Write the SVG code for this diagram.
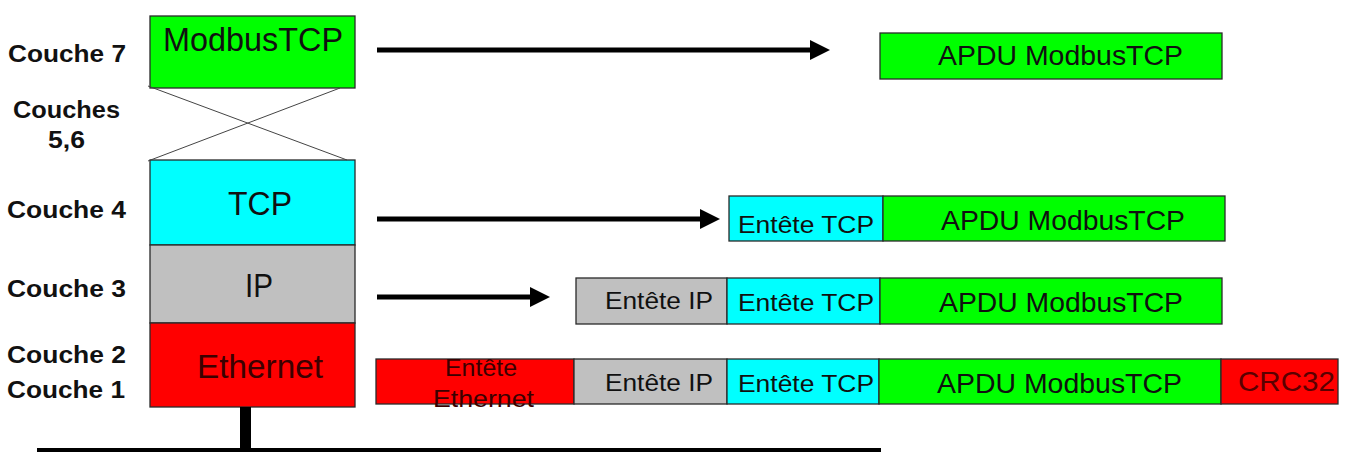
<svg xmlns="http://www.w3.org/2000/svg" width="1349" height="452" viewBox="0 0 1349 452">
  <style>
    .box { stroke: #2a2a2a; stroke-width: 1.3; }
    .green { fill: #00ff00; }
    .cyan { fill: #00ffff; }
    .grey { fill: #c0c0c0; }
    .red { fill: #ff0000; }
    .lbl { font-family: "Liberation Sans", Arial, sans-serif; font-weight: bold; font-size: 23px; fill: #111111; }
    .big { font-family: "Liberation Sans", Arial, sans-serif; font-size: 34px; fill: #101010; }
    .seg { font-family: "Liberation Sans", Arial, sans-serif; font-size: 28px; fill: #101010; }
    .hdr { font-family: "Liberation Sans", Arial, sans-serif; font-size: 24px; fill: #101010; }
    .arrow { stroke: #000000; stroke-width: 5; fill: none; marker-end: url(#head); }
    .thin { stroke: #444444; stroke-width: 1; fill: none; }
  </style>
  <defs>
    <marker id="head" markerUnits="userSpaceOnUse" markerWidth="20" markerHeight="20" refX="5" refY="10" orient="auto">
      <path d="M0,0 L20,10 L0,20 Z" fill="#000000"/>
    </marker>
  </defs>

  <rect width="1349" height="452" fill="#ffffff"/>

  <!-- layer labels -->
  <g id="labels">
    <text class="lbl" x="8" y="62" textLength="118" lengthAdjust="spacingAndGlyphs">Couche 7</text>
    <text class="lbl" x="13" y="118" textLength="107" lengthAdjust="spacingAndGlyphs">Couches</text>
    <text class="lbl" x="48" y="148" textLength="37" lengthAdjust="spacingAndGlyphs">5,6</text>
    <text class="lbl" x="7" y="218" textLength="119" lengthAdjust="spacingAndGlyphs">Couche 4</text>
    <text class="lbl" x="7" y="297" textLength="119" lengthAdjust="spacingAndGlyphs">Couche 3</text>
    <text class="lbl" x="7" y="363" textLength="119" lengthAdjust="spacingAndGlyphs">Couche 2</text>
    <text class="lbl" x="7" y="398" textLength="118" lengthAdjust="spacingAndGlyphs">Couche 1</text>
  </g>

  <!-- protocol stack -->
  <g id="stack-modbus">
    <rect class="box green" x="150" y="16" width="205" height="72"/>
    <text class="big" x="163" y="51" textLength="180" lengthAdjust="spacingAndGlyphs">ModbusTCP</text>
  </g>
  <g id="stack-tcp">
    <rect class="box cyan" x="150" y="160" width="205" height="85"/>
    <text class="big" x="228" y="215" textLength="64" lengthAdjust="spacingAndGlyphs">TCP</text>
  </g>
  <g id="stack-ip">
    <rect class="box grey" x="150" y="245" width="205" height="78"/>
    <text class="big" x="245" y="297" textLength="28" lengthAdjust="spacingAndGlyphs">IP</text>
  </g>
  <g id="stack-ethernet">
    <rect class="box red" x="150" y="323" width="205" height="84"/>
    <text class="big" x="197" y="378" textLength="126" lengthAdjust="spacingAndGlyphs" style="fill:#3c0000">Ethernet</text>
  </g>

  <!-- connectors -->
  <g id="connectors">
    <line class="thin" x1="148" y1="86" x2="347" y2="160"/>
    <line class="thin" x1="340" y1="88" x2="148" y2="161"/>
    <line class="arrow" x1="377" y1="50" x2="815" y2="50"/>
    <line class="arrow" x1="377" y1="219" x2="705" y2="219"/>
    <line class="arrow" x1="377" y1="297" x2="535" y2="297"/>
    <rect x="240" y="407" width="11" height="42" fill="#000000"/>
    <rect x="37" y="448" width="844" height="4" fill="#000000"/>
  </g>

  <!-- layer 7 frame -->
  <g id="frame-l7">
    <rect class="box green" x="880" y="33" width="342" height="46"/>
    <text class="seg" x="938" y="65" textLength="245" lengthAdjust="spacingAndGlyphs">APDU ModbusTCP</text>
  </g>

  <!-- layer 4 frame -->
  <g id="frame-l4">
    <rect class="box cyan" x="729" y="196" width="154" height="45"/>
    <text class="hdr" x="738" y="233" textLength="136" lengthAdjust="spacingAndGlyphs">Entête TCP</text>
    <rect class="box green" x="883" y="196" width="342" height="45"/>
    <text class="seg" x="941" y="230" textLength="244" lengthAdjust="spacingAndGlyphs">APDU ModbusTCP</text>
  </g>

  <!-- layer 3 frame -->
  <g id="frame-l3">
    <rect class="box grey" x="576" y="278" width="151" height="46"/>
    <text class="hdr" x="605" y="309" textLength="108" lengthAdjust="spacingAndGlyphs">Entête IP</text>
    <rect class="box cyan" x="727" y="278" width="153" height="46"/>
    <text class="hdr" x="738" y="311" textLength="136" lengthAdjust="spacingAndGlyphs">Entête TCP</text>
    <rect class="box green" x="880" y="278" width="342" height="46"/>
    <text class="seg" x="939" y="312" textLength="244" lengthAdjust="spacingAndGlyphs">APDU ModbusTCP</text>
  </g>

  <!-- layer 1-2 frame -->
  <g id="frame-l2">
    <rect class="box red" x="376" y="359" width="198" height="45"/>
    <text class="hdr" x="445" y="376" textLength="72" lengthAdjust="spacingAndGlyphs" style="fill:#3a0000">Entête</text>
    <text class="hdr" x="433" y="407" textLength="101" lengthAdjust="spacingAndGlyphs" style="fill:#3a0000">Ethernet</text>
    <rect class="box grey" x="574" y="359" width="153" height="45"/>
    <text class="hdr" x="605" y="391" textLength="108" lengthAdjust="spacingAndGlyphs">Entête IP</text>
    <rect class="box cyan" x="727" y="359" width="152" height="45"/>
    <text class="hdr" x="738" y="392" textLength="136" lengthAdjust="spacingAndGlyphs">Entête TCP</text>
    <rect class="box green" x="879" y="359" width="342" height="45"/>
    <text class="seg" x="937" y="393" textLength="245" lengthAdjust="spacingAndGlyphs">APDU ModbusTCP</text>
    <rect class="box red" x="1221" y="359" width="117" height="45"/>
    <text class="seg" x="1238" y="391" textLength="97" lengthAdjust="spacingAndGlyphs" style="fill:#5a0000">CRC32</text>
  </g>
</svg>
